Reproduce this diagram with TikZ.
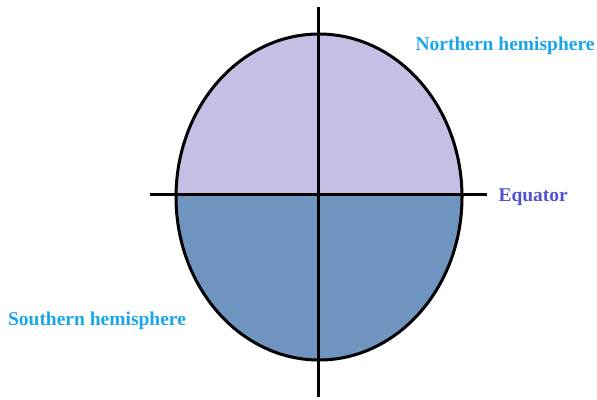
\documentclass[tikz,border=0pt]{standalone}
\usepackage{fontspec}
\setmainfont{Liberation Serif}
\usetikzlibrary{positioning}
\definecolor{NorthFill}{RGB}{197,191,230}
\definecolor{SouthFill}{RGB}{111,148,192}
\definecolor{HemiBlue}{RGB}{26,166,235}
\definecolor{EquatorBlue}{RGB}{82,82,208}

\begin{document}
\begin{tikzpicture}[x=1bp,y=-1bp, every node/.style={font=\fontsize{19.5bp}{23bp}\selectfont\bfseries},
  axis/.style={line width=3bp, black}]
  \useasboundingbox (0,0) rectangle (597,399);
  % globe halves
  \fill[NorthFill] (319,197) ellipse [x radius=143, y radius=163];
  \begin{scope}
    \clip (150,194) rectangle (490,399);
    \fill[SouthFill] (319,197) ellipse [x radius=143, y radius=163];
  \end{scope}
  \draw[line width=3bp] (319,197) ellipse [x radius=143, y radius=163];
  % axes
  \coordinate (top) at (318,7);
  \coordinate (bot) at (318,397);
  \coordinate (west) at (150,194);
  \coordinate (east) at (487,194);
  \draw[axis] (top) -- (bot);
  \draw[axis] (west) -- (east);
  % labels
  \node[HemiBlue] (north) at (505,46) {Northern hemisphere};
  \node[EquatorBlue, right=8bp of east, yshift=-3bp] (eq) {Equator};
  \node[HemiBlue] (south) at (97,321) {Southern hemisphere};
\end{tikzpicture}
\end{document}
